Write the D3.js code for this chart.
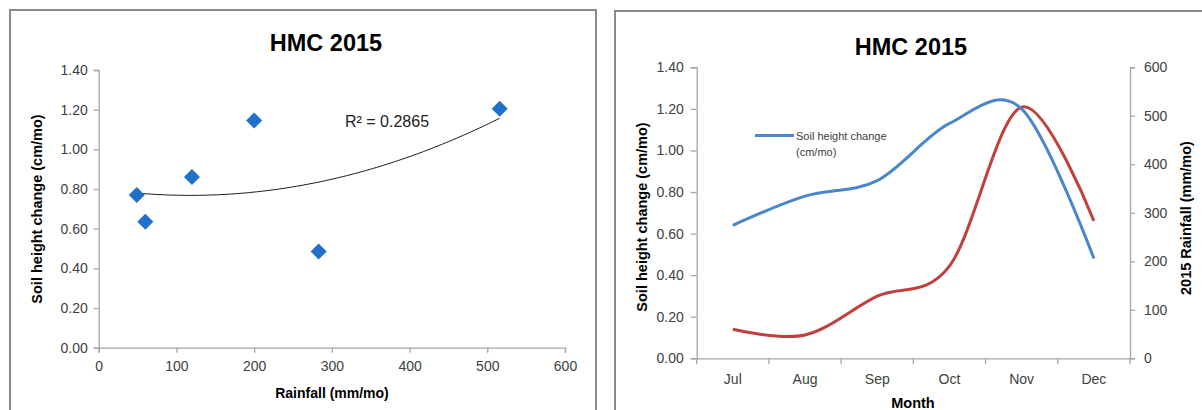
<!DOCTYPE html>
<html>
<head>
<meta charset="utf-8">
<script src="https://cdn.jsdelivr.net/npm/d3@7"></script>
<style>
  html, body { margin: 0; padding: 0; background: #fff; }
  svg { display: block; font-family: "Liberation Sans", Arial, sans-serif; }
</style>
</head>
<body>
<svg id="chart" width="1202" height="410"></svg>
<script>
// ---------- Data ----------
const chartTitle = "HMC 2015";

// Left: scatter of rainfall vs soil height change
const scatterRain = [49, 60, 120, 200, 283, 516];
const scatterSoil = [0.77, 0.635, 0.86, 1.145, 0.485, 1.205];
const rSquaredLabel = "R² = 0.2865";
const scatterXTicks = [0, 100, 200, 300, 400, 500, 600];
const scatterYTicks = [0, 0.2, 0.4, 0.6, 0.8, 1.0, 1.2, 1.4];

// Right: monthly series
const months = ["Jul", "Aug", "Sep", "Oct", "Nov", "Dec"];
const soilChange = [0.64, 0.78, 0.855, 1.13, 1.20, 0.48];
const rainfall = [60, 48, 128, 190, 518, 283];
const rainTicks = [0, 100, 200, 300, 400, 500, 600];
const legendLines = ["Soil height change", "(cm/mo)"];

// ---------- Styles ----------
const axisColor = "#a6a6a6";
const textColor = "#404040";
const diamondColor = "#1f6fcb";
const blueLine = "#4a86cc";
const redLine = "#c1403d";

const svg = d3.select("#chart");

// Panel borders
svg.append("rect").attr("x", 10).attr("y", 10).attr("width", 586).attr("height", 420)
  .attr("fill", "#fff").attr("stroke", "#8a8a8a").attr("stroke-width", 2);
svg.append("rect").attr("x", 615).attr("y", 11).attr("width", 620).attr("height", 420)
  .attr("fill", "#fff").attr("stroke", "#8a8a8a").attr("stroke-width", 2);

// ================= LEFT CHART =================
const L = { left: 98.7, right: 565, top: 70, bottom: 347.7 };
const xL = d3.scaleLinear().domain([0, 600]).range([L.left, L.right]);
const yL = d3.scaleLinear().domain([0, 1.4]).range([L.bottom, L.top]);
const gL = svg.append("g");

svg.append("text").attr("x", 326).attr("y", 51).attr("text-anchor", "middle")
  .attr("font-size", 23.5).attr("font-weight", "bold").attr("fill", "#000").text(chartTitle);

// y axis
const yAxisL = gL.append("g").attr("transform", `translate(${L.left},0)`)
  .call(d3.axisLeft(yL).tickValues(scatterYTicks).tickFormat(d3.format(".2f")).tickSize(5).tickPadding(6));
// x axis
const xAxisL = gL.append("g").attr("transform", `translate(0,${L.bottom})`)
  .call(d3.axisBottom(xL).tickValues(scatterXTicks).tickFormat(d3.format("d")).tickSize(5).tickPadding(8));
[yAxisL, xAxisL].forEach(a => {
  a.selectAll("path,line").attr("stroke", axisColor).attr("stroke-width", 1.3);
  a.selectAll("text").attr("fill", textColor).attr("font-size", 14)
    .attr("font-family", "Liberation Sans, Arial, sans-serif");
});

// axis titles
svg.append("text").attr("transform", "translate(42,209) rotate(-90)").attr("text-anchor", "middle")
  .attr("font-size", 14.5).attr("font-weight", "bold").attr("fill", "#000").text("Soil height change (cm/mo)");
svg.append("text").attr("x", 332).attr("y", 398).attr("text-anchor", "middle")
  .attr("font-size", 14).attr("font-weight", "bold").attr("fill", "#000").text("Rainfall (mm/mo)");

// polynomial (order 2) trendline fitted to the scatter data
function quadFit(xs, ys) {
  const n = xs.length;
  let s = [0,0,0,0,0], t = [0,0,0];
  for (let i = 0; i < n; i++) {
    const x = xs[i], y = ys[i];
    for (let k = 0; k < 5; k++) s[k] += Math.pow(x, k);
    for (let k = 0; k < 3; k++) t[k] += y * Math.pow(x, k);
  }
  const M = [[s[0], s[1], s[2], t[0]], [s[1], s[2], s[3], t[1]], [s[2], s[3], s[4], t[2]]];
  for (let c = 0; c < 3; c++) {
    for (let r = c + 1; r < 3; r++) {
      const f = M[r][c] / M[c][c];
      for (let k = c; k < 4; k++) M[r][k] -= f * M[c][k];
    }
  }
  const b = [0,0,0];
  for (let r = 2; r >= 0; r--) {
    let v = M[r][3];
    for (let k = r + 1; k < 3; k++) v -= M[r][k] * b[k];
    b[r] = v / M[r][r];
  }
  return x => b[0] + b[1] * x + b[2] * x * x;
}
const fit = quadFit(scatterRain, scatterSoil);
const xMin = d3.min(scatterRain), xMax = d3.max(scatterRain);
const trendPts = d3.range(0, 101).map(i => {
  const x = xMin + (xMax - xMin) * i / 100;
  return [x, fit(x)];
});
gL.append("path").datum(trendPts)
  .attr("d", d3.line().x(d => xL(d[0])).y(d => yL(d[1])))
  .attr("fill", "none").attr("stroke", "#1a1a1a").attr("stroke-width", 1);

// diamonds
gL.selectAll("path.pt").data(scatterRain.map((r, i) => [r, scatterSoil[i]])).join("path")
  .attr("class", "pt")
  .attr("d", d3.symbol(d3.symbolSquare, 128)())
  .attr("transform", d => `translate(${xL(d[0])},${yL(d[1])}) rotate(45)`)
  .attr("fill", diamondColor);

svg.append("text").attr("x", 345).attr("y", 127).attr("font-size", 16).attr("fill", "#222")
  .text(rSquaredLabel);

// ================= RIGHT CHART =================
const R = { left: 696.7, right: 1130, top: 67.3, bottom: 358.3 };
const xR = d3.scaleBand().domain(months).range([R.left, R.right]).padding(0);
const yR = d3.scaleLinear().domain([0, 1.4]).range([R.bottom, R.top]);
const yR2 = d3.scaleLinear().domain([0, 600]).range([R.bottom, R.top]);
const gR = svg.append("g");

svg.append("text").attr("x", 911).attr("y", 55).attr("text-anchor", "middle")
  .attr("font-size", 23.5).attr("font-weight", "bold").attr("fill", "#000").text(chartTitle);

const yAxisR = gR.append("g").attr("transform", `translate(${R.left},0)`)
  .call(d3.axisLeft(yR).tickValues(scatterYTicks).tickFormat(d3.format(".2f")).tickSize(6).tickPadding(7));
const yAxisR2 = gR.append("g").attr("transform", `translate(${R.right},0)`)
  .call(d3.axisRight(yR2).tickValues(rainTicks).tickFormat(d3.format("d")).tickSize(5).tickPadding(9));
const xAxisR = gR.append("g").attr("transform", `translate(0,${R.bottom})`)
  .call(d3.axisBottom(xR).tickSize(0).tickPadding(16));
// category boundary ticks
const bounds = months.map(m => xR(m)).concat([R.right]);
gR.append("g").selectAll("line").data(bounds).join("line")
  .attr("x1", d => d).attr("x2", d => d).attr("y1", R.bottom).attr("y2", R.bottom + 6)
  .attr("stroke", axisColor).attr("stroke-width", 1.3);
[yAxisR, yAxisR2, xAxisR].forEach(a => {
  a.selectAll("path,line").attr("stroke", axisColor).attr("stroke-width", 1.3);
  a.selectAll("text").attr("fill", textColor).attr("font-size", 14)
    .attr("font-family", "Liberation Sans, Arial, sans-serif");
});

svg.append("text").attr("transform", "translate(647,217) rotate(-90)").attr("text-anchor", "middle")
  .attr("font-size", 14.5).attr("font-weight", "bold").attr("fill", "#000").text("Soil height change (cm/mo)");
svg.append("text").attr("transform", "translate(1191,218) rotate(-90)").attr("text-anchor", "middle")
  .attr("font-size", 14.5).attr("font-weight", "bold").attr("fill", "#000").text("2015 Rainfall (mm/mo)");
svg.append("text").attr("x", 913).attr("y", 408).attr("text-anchor", "middle")
  .attr("font-size", 14.5).attr("font-weight", "bold").attr("fill", "#000").text("Month");

const cx = m => xR(m) + xR.bandwidth() / 2;
gR.append("path").datum(months.map((m, i) => [cx(m), yR2(rainfall[i])]))
  .attr("d", d3.line().curve(d3.curveCardinal.tension(0)))
  .attr("fill", "none").attr("stroke", redLine).attr("stroke-width", 3);
gR.append("path").datum(months.map((m, i) => [cx(m), yR(soilChange[i])]))
  .attr("d", d3.line().curve(d3.curveCardinal.tension(0)))
  .attr("fill", "none").attr("stroke", blueLine).attr("stroke-width", 3);

// legend
const lg = svg.append("g");
lg.append("line").attr("x1", 755).attr("x2", 794).attr("y1", 135.5).attr("y2", 135.5)
  .attr("stroke", blueLine).attr("stroke-width", 3);
lg.selectAll("text").data(legendLines).join("text")
  .attr("x", 796).attr("y", (d, i) => 139.5 + i * 16)
  .attr("font-size", 11).attr("fill", textColor).text(d => d);
</script>
</body>
</html>
